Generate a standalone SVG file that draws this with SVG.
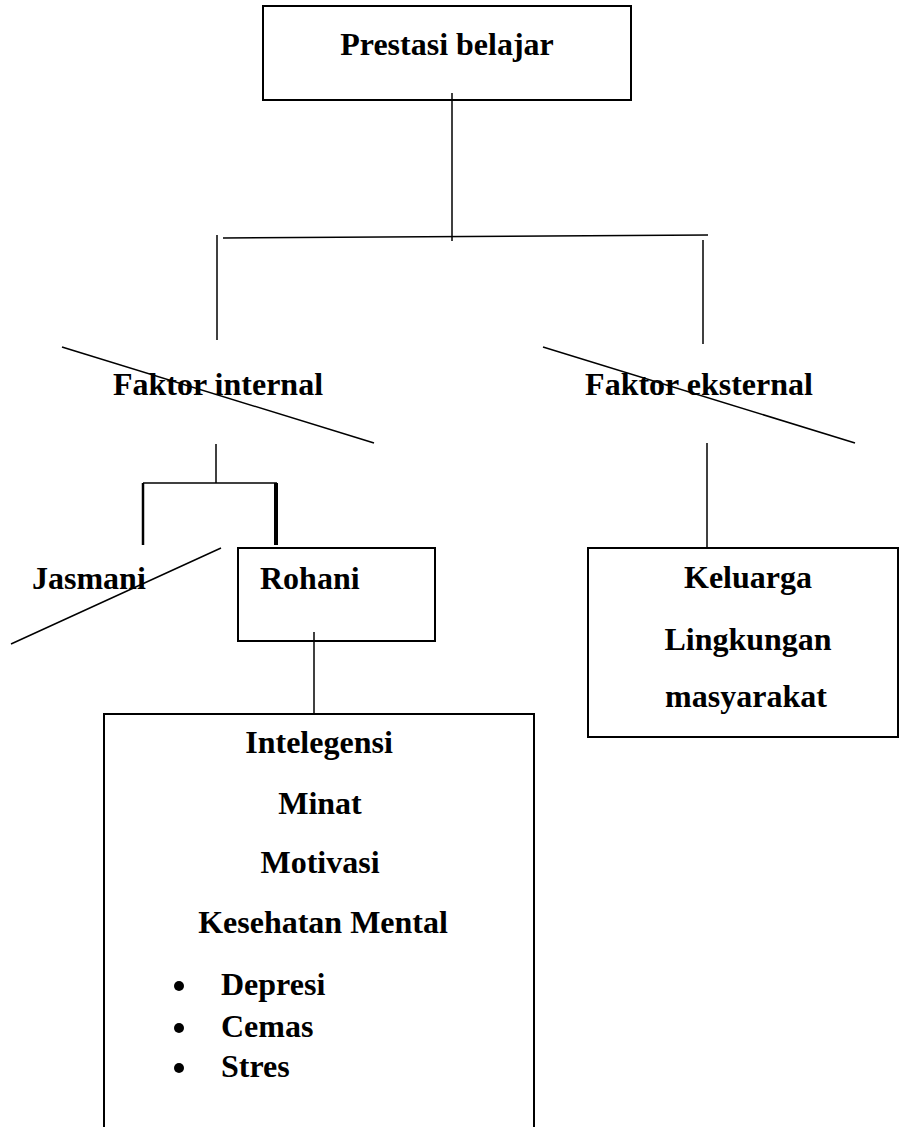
<svg xmlns="http://www.w3.org/2000/svg" width="899" height="1127" viewBox="0 0 899 1127">
<style>
text{font-family:"Liberation Serif","Times New Roman",serif;font-weight:bold;font-size:32px;fill:#000}
.m{text-anchor:middle}
.box{fill:none;stroke:#000;stroke-width:2}
.ln{fill:none;stroke:#000;stroke-width:1.5}
</style>
<rect width="899" height="1127" fill="#fff"/>
<g id="connectors">
<line class="ln" x1="452" y1="93" x2="452" y2="241"/>
<line class="ln" x1="223" y1="238" x2="708" y2="235"/>
<line class="ln" x1="217" y1="235" x2="217" y2="340"/>
<line class="ln" x1="703" y1="240" x2="703" y2="344"/>
<line class="ln" x1="216" y1="444" x2="216" y2="483"/>
<line class="ln" x1="143" y1="483" x2="277" y2="483"/>
<line fill="none" stroke="#000" stroke-width="2.5" x1="143" y1="483" x2="143" y2="545"/>
<line fill="none" stroke="#000" stroke-width="4" x1="276" y1="483" x2="276" y2="545"/>
<line class="ln" x1="707" y1="443" x2="707" y2="548"/>
<line class="ln" x1="314" y1="632" x2="314" y2="714"/>
</g>
<g id="prestasi">
<rect class="box" x="263" y="6" width="368" height="94"/>
<text class="m" x="447" y="55">Prestasi belajar</text>
</g>
<g id="faktor-internal">
<text class="m" x="218" y="395">Faktor internal</text>
<line class="ln" x1="62" y1="347" x2="374" y2="443"/>
</g>
<g id="faktor-eksternal">
<text class="m" x="699" y="395">Faktor eksternal</text>
<line class="ln" x1="543" y1="347" x2="855" y2="443"/>
</g>
<g id="jasmani">
<text x="32" y="589">Jasmani</text>
<line class="ln" x1="221" y1="548" x2="11" y2="644"/>
</g>
<g id="rohani">
<rect class="box" x="238" y="548" width="197" height="93"/>
<text x="260" y="589">Rohani</text>
</g>
<g id="eksternal-items">
<rect class="box" x="588" y="548" width="310" height="189"/>
<text class="m" x="748" y="588">Keluarga</text>
<text class="m" x="748" y="650">Lingkungan</text>
<text class="m" x="746" y="707">masyarakat</text>
</g>
<g id="rohani-items">
<path class="box" d="M104,1127 V714 H534 V1127"/>
<text class="m" x="319" y="753">Intelegensi</text>
<text class="m" x="320" y="814">Minat</text>
<text class="m" x="320" y="873">Motivasi</text>
<text class="m" x="323" y="933">Kesehatan Mental</text>
<circle cx="179" cy="986" r="5"/>
<text x="221" y="995">Depresi</text>
<circle cx="179" cy="1028" r="5"/>
<text x="221" y="1037">Cemas</text>
<circle cx="179" cy="1068" r="5"/>
<text x="221" y="1077">Stres</text>
</g>
</svg>
